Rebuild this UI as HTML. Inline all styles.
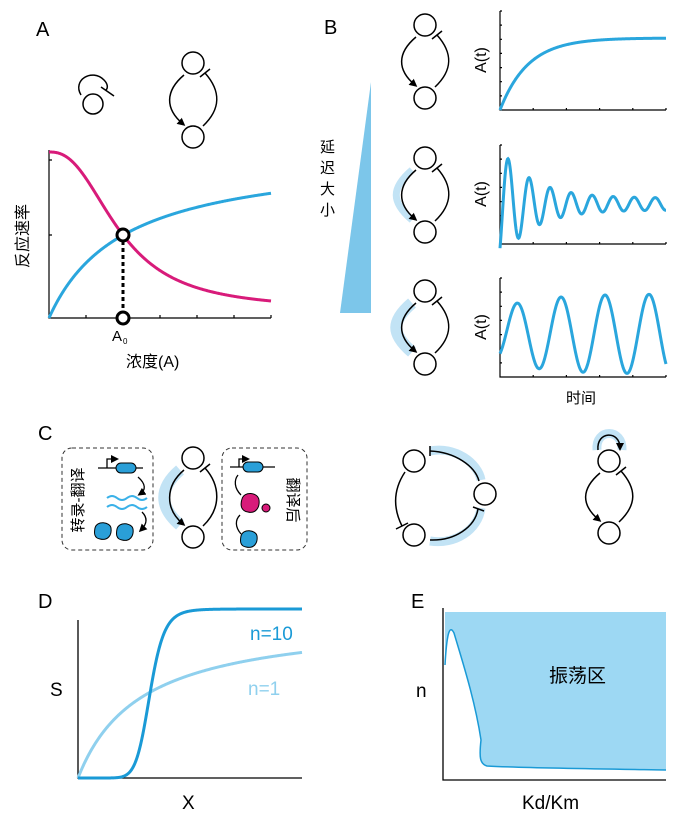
<!DOCTYPE html>
<html><head><meta charset="utf-8">
<style>
html,body{margin:0;padding:0;background:#fff;}
svg{display:block;font-family:"Liberation Sans","Noto Sans CJK SC",sans-serif;}
</style></head>
<body>
<svg id="s" width="680" height="819" viewBox="0 0 680 819" xmlns="http://www.w3.org/2000/svg">
<defs>
<marker id="ah" markerWidth="8" markerHeight="8" refX="5" refY="4" orient="auto" markerUnits="userSpaceOnUse">
<path d="M0,0 L8,4 L0,8 Z" fill="#000"/></marker>
</defs>
<g font-size="20">
<text x="36" y="36">A</text>
<text x="324" y="34">B</text>
<text x="38" y="440">C</text>
<text x="38" y="608">D</text>
<text x="411" y="608">E</text>
</g>
<polygon points="340,313 371,313 371,82" fill="#7cc6ea"/>
<g font-size="15">
<text x="320" y="152">延</text><text x="320" y="173">迟</text><text x="320" y="194">大</text><text x="320" y="215">小</text>
</g>
<g stroke="#000" stroke-width="1.2" fill="none">
<path d="M49,150 V318 H271"/>
<path d="M49,160 h3 M49,235 h3 M86,318 v-3 M123,318 v-3 M160,318 v-3 M197,318 v-3 M234,318 v-3 M271,318 v-3"/>
</g>
<path id="pa_m" fill="none" stroke="#d81b7a" stroke-width="3"/>
<path id="pa_b" fill="none" stroke="#2aa6dd" stroke-width="3"/>
<path d="M123,241 V312" stroke="#000" stroke-width="3" stroke-dasharray="4,3"/>
<circle cx="123" cy="235" r="6" fill="#fff" stroke="#000" stroke-width="3"/>
<circle cx="123" cy="318" r="6" fill="#fff" stroke="#000" stroke-width="3"/>
<text x="112" y="341" font-size="15">A</text><text x="123" y="344" font-size="8">0</text>
<text x="126" y="367" font-size="16">浓度(A)</text>
<text transform="translate(28,236) rotate(-90)" font-size="16" text-anchor="middle">反应速率</text>
<circle cx="93" cy="104" r="10" fill="none" stroke="#000" stroke-width="1.5"/>
<path d="M81,95 C72,80 92,68 104,80 C108,84 108,88 106,90" fill="none" stroke="#000" stroke-width="1.5"/>
<path d="M101,87 L114,96" stroke="#000" stroke-width="1.5"/>
<path id="baxes" stroke="#000" stroke-width="1.2" fill="none"/>
<path id="b1" fill="none" stroke="#2aa6dd" stroke-width="3"/>
<path id="b2" fill="none" stroke="#2aa6dd" stroke-width="3"/>
<path id="b3" fill="none" stroke="#2aa6dd" stroke-width="3"/>
<g font-size="16">
<text transform="translate(486,60) rotate(-90)" text-anchor="middle">A(t)</text>
<text transform="translate(486,194) rotate(-90)" text-anchor="middle">A(t)</text>
<text transform="translate(486,327) rotate(-90)" text-anchor="middle">A(t)</text>
<text x="566" y="403" font-size="15">时间</text>
</g>
<g id="loops"></g>
<rect x="62" y="448" width="91" height="102" rx="10" fill="none" stroke="#333" stroke-width="1" stroke-dasharray="4,3"/>
<rect x="222" y="448" width="85" height="102" rx="10" fill="none" stroke="#333" stroke-width="1" stroke-dasharray="4,3"/>
<text transform="translate(79,500) rotate(-90)" font-size="15" text-anchor="middle" dominant-baseline="middle">转录-翻译</text>
<text transform="translate(292,500) rotate(90)" font-size="15" text-anchor="middle" dominant-baseline="middle">翻译后</text>
<g stroke="#000" stroke-width="1.3" fill="none">
<path d="M98,468 H143"/><path d="M107,468 V459 H116" marker-end="url(#ah)"/>
<path d="M138,477 C146,484 146,490 140,494" marker-end="url(#ah)"/>
<path d="M142,512 C148,518 147,524 141,530" marker-end="url(#ah)"/>
<path d="M230,467 H275"/><path d="M239,467 V459 H247" marker-end="url(#ah)"/>
<path d="M241,495 C234,488 234,480 238,475"/>
<path d="M241,534 C235,527 235,520 240,515"/>
</g>
<rect x="116" y="463" width="20" height="10" rx="5" fill="#2a9fd8" stroke="#000"/>
<rect x="243" y="462" width="20" height="10" rx="5" fill="#2a9fd8" stroke="#000"/>
<path d="M107,498 q5,-4 10,0 t10,0 t10,0 t10,0 M107,507 q5,-4 10,0 t10,0 t10,0 t10,0" fill="none" stroke="#3ab1e8" stroke-width="2"/>
<path d="M95,528 C97,520 110,522 111,528 C112,535 108,541 100,539 C94,538 94,533 95,528Z" fill="#2a9fd8" stroke="#000"/>
<path d="M117,529 C119,521 132,523 133,529 C134,536 130,542 122,540 C116,539 116,534 117,529Z" fill="#2a9fd8" stroke="#000"/>
<path d="M241,536 C243,528 256,530 257,536 C258,543 254,549 246,547 C240,546 240,541 241,536Z" fill="#2a9fd8" stroke="#000"/>
<path d="M242,499 C244,491 258,492 259,500 C260,508 255,514 248,512 C241,511 240,505 242,499Z" fill="#d81b7a" stroke="#000"/>
<circle cx="266" cy="508" r="4" fill="#d81b7a" stroke="#000"/>
<g stroke="#000" stroke-width="1.3" fill="none"><path d="M78,620 V778 H302"/></g>
<path id="d1" fill="none" stroke="#8fd0ee" stroke-width="3"/>
<path id="d10" fill="none" stroke="#1a9ad6" stroke-width="3"/>
<text x="250" y="640" font-size="19" fill="#1a9ad6">n=10</text>
<text x="248" y="695" font-size="19" fill="#8fd0ee">n=1</text>
<text x="50" y="696" font-size="19">S</text>
<text x="182" y="809" font-size="19">X</text>
<path d="M445,612 H666 V770 C600,769 520,768 487,766 C480,764 479,758 481,740 C475,700 462,660 454,633 C450,625 447,630 445,665 Z" fill="#9dd8f3"/>
<path d="M445,665 C447,630 450,625 454,633 C462,660 475,700 481,740 C479,758 480,764 487,766 C520,768 600,769 666,770" fill="none" stroke="#1a9ad6" stroke-width="1.5"/>
<g stroke="#000" stroke-width="1.3" fill="none"><path d="M443,608 V780 H666"/></g>
<text x="549" y="682" font-size="19">振荡区</text>
<text x="416" y="697" font-size="19">n</text>
<text x="522" y="809" font-size="19">Kd/Km</text>
</svg>
<script>
var NS="http://www.w3.org/2000/svg";
function P(f,x0,x1){var d="";for(var x=x0;x<=x1;x+=0.5){d+=(x==x0?"M":"L")+x.toFixed(1)+","+f(x).toFixed(2)+" ";}return d;}
function set(id,d){document.getElementById(id).setAttribute("d",d);}
set("pa_b",P(function(x){var t=x-49;return 318-167*t/(t+75.2);},49,271));
set("pa_m",P(function(x){var t=x-49;return 318-(8+158/(1+Math.pow(t/71,2.46)));},49,271));
set("b1",P(function(x){return 110-72*(1-Math.exp(-(x-500)/28));},500,666));
set("b2",P(function(x){var a=6+46*Math.exp(-(x-503)/32);return 204-a*Math.sin(2*Math.PI*(x-503)/21);},500,666));
set("b3",P(function(x){var a=26+14*(1-Math.exp(-(x-500)/40));return 334-a*Math.sin(2*Math.PI*(x-506)/44);},500,666));
set("d1",P(function(x){var t=x-78;return 778-161*t/(t+63.2);},78,302));
set("d10",P(function(x){var t=x-78;if(t<=0)return 778;return 778-169/(1+Math.pow(72/t,10));},78,302));
var d="";
[[11,110],[145,244],[278,377]].forEach(function(r){
 d+="M500,"+r[0]+" V"+r[1]+" H666 ";
 for(var i=0;i<=7;i++){var y=r[1]-i*(r[1]-r[0])/7;d+="M500,"+y.toFixed(1)+" h2 ";}
 for(var j=1;j<=5;j++){d+="M"+(500+j*33.2).toFixed(1)+","+r[1]+" v-2 ";}
});
set("baxes",d);
var lg=document.getElementById("loops");
function el(tag,at){var e=document.createElementNS(NS,tag);for(var k in at)e.setAttribute(k,at[k]);lg.appendChild(e);return e;}
function loop(cx,ty,by,band){
 var r=11;
 if(band) el("path",{d:"M"+(cx-13)+","+(ty+12)+" C"+(cx-34)+","+(ty+30)+" "+(cx-34)+","+(by-30)+" "+(cx-13)+","+(by-12),fill:"none",stroke:"#c2e3f5","stroke-width":band});
 el("circle",{cx:cx,cy:ty,r:r,fill:"none",stroke:"#000","stroke-width":1.5});
 el("circle",{cx:cx,cy:by,r:r,fill:"none",stroke:"#000","stroke-width":1.5});
 el("path",{d:"M"+(cx-9)+","+(ty+12)+" C"+(cx-28)+","+(ty+28)+" "+(cx-28)+","+(by-28)+" "+(cx-10)+","+(by-13),fill:"none",stroke:"#000","stroke-width":1.5,"marker-end":"url(#ah)"});
 el("path",{d:"M"+(cx+10)+","+(by-11)+" C"+(cx+28)+","+(by-28)+" "+(cx+28)+","+(ty+28)+" "+(cx+12)+","+(ty+10),fill:"none",stroke:"#000","stroke-width":1.5});
 el("path",{d:"M"+(cx+7)+","+(ty+14)+" L"+(cx+17)+","+(ty+6),stroke:"#000","stroke-width":1.5});
}
loop(193,63,137,0);
loop(425,25,98,0);
loop(425,158,232,7);
loop(425,291,364,12);
loop(193,458,537,12);
loop(609,461,533,0);
el("path",{d:"M597,450 C595,428 623,428 622,450",fill:"none",stroke:"#c2e3f5","stroke-width":9});
el("path",{d:"M598,450 C596,431 620,430 620,448",fill:"none",stroke:"#000","stroke-width":1.5,"marker-end":"url(#ah)"});
[[414,461],[485,494],[414,535]].forEach(function(c){el("circle",{cx:c[0],cy:c[1],r:11,fill:"none",stroke:"#000","stroke-width":1.5});});
el("path",{d:"M430,451 C455,446 478,463 481,480",fill:"none",stroke:"#c2e3f5","stroke-width":9});
el("path",{d:"M430,541 C455,545 478,530 481,508",fill:"none",stroke:"#c2e3f5","stroke-width":9});
el("path",{d:"M430,451 C455,452 475,466 479,481",fill:"none",stroke:"#000","stroke-width":1.5});
el("path",{d:"M430,446 V456",stroke:"#000","stroke-width":1.5});
el("path",{d:"M430,540 C455,541 475,527 478,509",fill:"none",stroke:"#000","stroke-width":1.5});
el("path",{d:"M473,507 L484,511",stroke:"#000","stroke-width":1.5});
el("path",{d:"M405,472 C393,490 393,508 402,526",fill:"none",stroke:"#000","stroke-width":1.5});
el("path",{d:"M396,529 L408,523",stroke:"#000","stroke-width":1.5});
</script>
</body></html>
